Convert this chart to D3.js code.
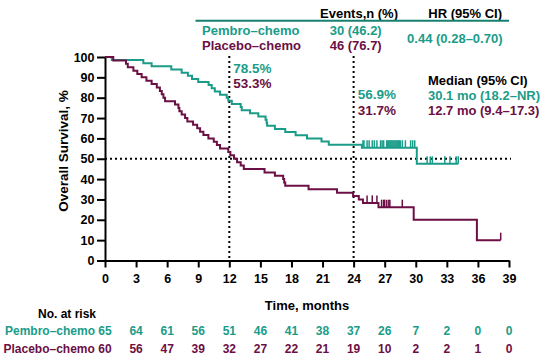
<!DOCTYPE html>
<html>
<head>
<meta charset="utf-8">
<script src="https://cdn.jsdelivr.net/npm/d3@7"></script>
<style>
html,body{margin:0;padding:0;background:#fff;}
svg text{font-family:"Liberation Sans",Arial,sans-serif;font-weight:bold;}
</style>
</head>
<body>
<svg id="chart" width="554" height="360"></svg>
<script>
// ---- data ----
const xTicks = [0,3,6,9,12,15,18,21,24,27,30,33,36,39];
const yTicks = [0,10,20,30,40,50,60,70,80,90,100];
const groups = ["Pembro\u2013chemo","Placebo\u2013chemo"];
const eventsText = ["30 (46.2)","46 (76.7)"];
const hrText = "0.44 (0.28\u20130.70)";
const medianText = ["30.1 mo (18.2\u2013NR)","12.7 mo (9.4\u201317.3)"];
const at12 = ["78.5%","53.3%"];
const at24 = ["56.9%","31.7%"];
const riskPembro = [65,64,61,56,51,46,41,38,37,26,7,2,0,0];
const riskPlacebo = [60,56,47,39,32,27,22,21,19,10,2,2,1,0];

// KM steps [month, survival %]
const pembroSteps = [[0,100],[0.65,98.5],[3.7,96.9],[4.5,95.4],[6.4,93.8],[7.4,92.3],[8.0,90.8],[8.4,89.2],[9.0,87.7],[10.0,86.2],[10.3,84.6],[10.6,83.1],[11.1,81.5],[11.75,80.0],[11.9,78.5],[12.24,76.9],[13.1,75.4],[13.2,73.8],[14.0,72.3],[14.8,70.8],[15.5,69.2],[15.6,67.7],[15.65,66.2],[16.4,64.6],[17.4,63.1],[18.4,61.5],[19.5,60.0],[20.9,58.5],[21.6,56.9],[24.8,55.4],[30.1,47.5],[34.1,47.5]];
const placeboSteps = [[0,100],[0.8,98.3],[2.03,96.7],[2.2,95.0],[2.74,93.3],[3.12,91.7],[3.54,90.0],[4.0,88.3],[4.5,86.7],[5.0,85.0],[5.3,83.3],[5.48,81.7],[5.64,80.0],[5.8,78.3],[6.76,76.7],[7.09,75.0],[7.18,73.3],[7.4,71.7],[7.73,70.0],[7.95,68.3],[8.5,66.7],[8.9,65.0],[9.18,63.3],[9.5,61.7],[9.98,60.0],[10.5,58.3],[10.8,56.7],[11.1,55.0],[11.9,53.3],[12.1,51.7],[12.45,50.0],[12.75,48.3],[13.1,46.7],[13.4,45.0],[15.4,43.3],[16.4,41.7],[17.2,40.0],[17.3,38.3],[17.4,36.7],[19.65,35.0],[22.4,33.3],[23.95,31.7],[24.5,30.0],[24.9,28.3],[26.4,26.2],[29.8,20.0],[35.9,10.0],[38.2,10.0]];
const pembroCensor = [24.9,25.0,25.3,25.5,25.8,26.0,26.25,26.6,26.75,26.9,27.2,27.3,27.4,27.5,27.6,27.7,27.8,27.9,28.0,28.1,28.2,28.3,28.4,28.5,28.7,29.0,29.5,29.7,29.9,31.1,31.4,31.6,32.8,33.3,33.9,34.1];
const placeboCensor = [25.3,25.8,26.25,26.7,26.9,27.0,27.2,27.4,27.5,28.7,38.2];

// ---- style ----
const teal = "#1a9c89";
const maroon = "#6c0f44";

const svg = d3.select("#chart");
const x = d3.scaleLinear().domain([0,39]).range([105,509]);
const y = d3.scaleLinear().domain([0,100]).range([260.5,57]);

// reference lines
const ref = svg.append("g").attr("stroke","#000").attr("stroke-width",2).attr("stroke-dasharray","2,3");
ref.append("line").attr("x1",x(0)).attr("x2",511).attr("y1",y(50)).attr("y2",y(50));
[12,24].forEach(m=>{
  ref.append("line").attr("x1",x(m)).attr("x2",x(m)).attr("y1",56).attr("y2",y(0));
});

// axes
const yAxis = d3.axisLeft(y).tickValues(yTicks).tickSize(8).tickSizeOuter(0).tickPadding(2.5);
const gy = svg.append("g").attr("transform",`translate(${x(0)},0)`).call(yAxis);
const xAxis = d3.axisBottom(x).tickValues(xTicks).tickSize(7).tickSizeOuter(0).tickPadding(7);
const gx = svg.append("g").attr("transform",`translate(0,${y(0)})`).call(xAxis);
[gx,gy].forEach(g=>{
  g.select(".domain").attr("stroke","#000").attr("stroke-width",2);
  g.selectAll(".tick line").attr("stroke","#000").attr("stroke-width",2);
  g.selectAll(".tick text").attr("fill","#000").style("font-size","12.5px").style("font-family",'"Liberation Sans",Arial,sans-serif').style("font-weight","bold");
});

// curves
const line = d3.line().x(d=>x(d[0])).y(d=>y(d[1])).curve(d3.curveStepAfter);
function valAt(steps,t){let v=steps[0][1];for(const s of steps){if(s[0]<=t)v=s[1];}return v;}
[[pembroSteps,pembroCensor,teal],[placeboSteps,placeboCensor,maroon]].forEach(([steps,cens,col])=>{
  svg.append("path").datum(steps).attr("d",line).attr("fill","none").attr("stroke",col).attr("stroke-width",2);
  svg.append("g").selectAll("line").data(cens).join("line")
    .attr("x1",d=>x(d)).attr("x2",d=>x(d))
    .attr("y1",d=>y(valAt(steps,d))).attr("y2",d=>y(valAt(steps,d))-7.5)
    .attr("stroke",col).attr("stroke-width",1.5);
});

// text helper
function txt(s,xx,yy,col,size,anchor){
  return svg.append("text").attr("x",xx).attr("y",yy).attr("fill",col)
    .style("font-size",size+"px").attr("text-anchor",anchor||"start").text(s);
}

// legend table
txt("Events,n (%)",320,18,"#000",13);
txt("HR (95% CI)",502,18,"#000",13,"end");
svg.append("line").attr("x1",195.5).attr("x2",509).attr("y1",20.8).attr("y2",20.8).attr("stroke","#17806f").attr("stroke-width",2);
txt(groups[0],202,34.7,teal,13);
txt(groups[1],202,49.7,maroon,13);
txt(eventsText[0],355.7,34.7,teal,13,"middle");
txt(eventsText[1],355.7,49.7,maroon,13,"middle");
txt(hrText,502.5,43,teal,13,"end");

// median block
txt("Median (95% CI)",428,85.4,"#000",13);
txt(medianText[0],428,99.5,teal,13);
txt(medianText[1],428,115,maroon,13);

// landmark annotations
txt(at12[0],233.3,73,teal,13.5);
txt(at12[1],233.3,88,maroon,13.5);
txt(at24[0],357.7,98.8,teal,13.5);
txt(at24[1],357.7,114.8,maroon,13.5);

// axis titles
txt("Overall Survival, %",0,0,"#000",13.5,"middle").attr("transform","translate(67.5,151) rotate(-90)");
txt("Time, months",307,309.7,"#000",13,"middle");

// risk table
txt("No. at risk",38,317.6,"#000",12);
txt(groups[0],5,335,teal,12);
txt(groups[1],3.5,352.6,maroon,12);
svg.append("g").selectAll("text").data(riskPembro).join("text")
  .attr("x",(d,i)=>x(xTicks[i])).attr("y",335).attr("fill",teal).attr("text-anchor","middle")
  .style("font-size","12px").text(d=>d);
svg.append("g").selectAll("text").data(riskPlacebo).join("text")
  .attr("x",(d,i)=>x(xTicks[i])).attr("y",352.6).attr("fill",maroon).attr("text-anchor","middle")
  .style("font-size","12px").text(d=>d);
</script>
</body>
</html>
